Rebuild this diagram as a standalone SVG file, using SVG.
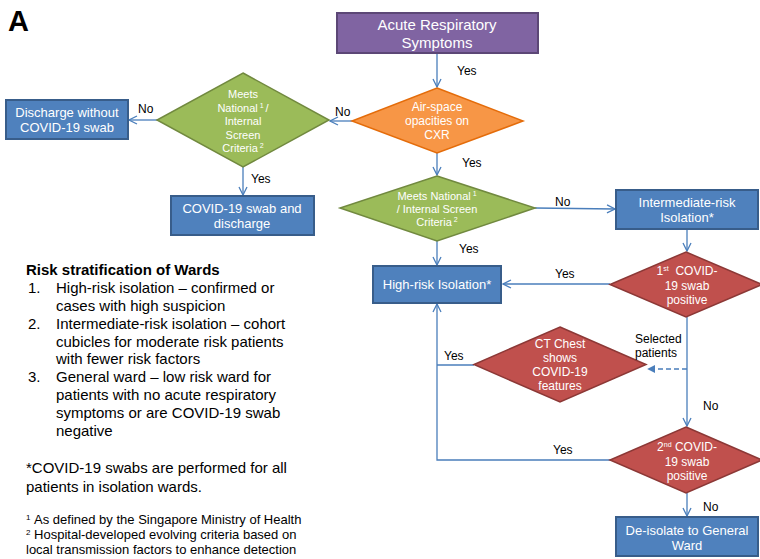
<svg xmlns="http://www.w3.org/2000/svg" width="760" height="559" viewBox="0 0 760 559">
<style>
text{font-family:"Liberation Sans",Arial,sans-serif}
.w{fill:#fff;text-anchor:middle}
.lab{fill:#000;font-size:12px}
.box{fill:#4F81BD;stroke:#385D8A;stroke-width:2}
.grn{fill:#9BBB59;stroke:#71893F;stroke-width:1.5}
.red{fill:#C0504D;stroke:#8C3836;stroke-width:1.5}
.con{fill:none;stroke:#4A7EBB;stroke-width:1.3}
.body{font-size:15px;fill:#000}
.fn{font-size:13px;fill:#000}
</style>
<defs>
<marker id="ar" viewBox="0 0 10 10" refX="9" refY="5" markerWidth="10" markerHeight="10" markerUnits="userSpaceOnUse" orient="auto">
<path d="M1,1 L9,5 L1,9" fill="none" stroke="#4A7EBB" stroke-width="1.3"/>
</marker>
<marker id="tri" viewBox="0 0 10 10" refX="9" refY="5" markerWidth="8" markerHeight="8" markerUnits="userSpaceOnUse" orient="auto">
<path d="M0,0 L10,5 L0,10 Z" fill="#4A7EBB"/>
</marker>
</defs>
<text x="8" y="31" font-size="29" font-weight="bold" fill="#000">A</text>
<g id="connectors">
<line class="con" x1="437" y1="53" x2="437" y2="87" marker-end="url(#ar)"/>
<line class="con" x1="352" y1="121" x2="330" y2="121" marker-end="url(#ar)"/>
<line class="con" x1="157" y1="120" x2="129" y2="120" marker-end="url(#ar)"/>
<line class="con" x1="243" y1="167" x2="243" y2="195" marker-end="url(#ar)"/>
<line class="con" x1="437" y1="153" x2="437" y2="175" marker-end="url(#ar)"/>
<line class="con" x1="535" y1="208" x2="615" y2="209" marker-end="url(#ar)"/>
<line class="con" x1="437" y1="241" x2="437" y2="265" marker-end="url(#ar)"/>
<line class="con" x1="687" y1="229" x2="687" y2="251" marker-end="url(#ar)"/>
<line class="con" x1="610" y1="284" x2="503" y2="284" marker-end="url(#ar)"/>
<line class="con" x1="687" y1="317" x2="687" y2="426" marker-end="url(#ar)"/>
<line class="con" x1="687" y1="369" x2="648" y2="369" stroke-dasharray="5,3" marker-end="url(#tri)"/>
<polyline class="con" points="474,365 437,365"/>
<polyline class="con" points="610,460 437,460 437,304" marker-end="url(#ar)"/>
<line class="con" x1="687" y1="493" x2="687" y2="516" marker-end="url(#ar)"/>
</g>
<g id="n-acute">
<rect x="337" y="13" width="201" height="40" fill="#8064A2" stroke="#5C4776" stroke-width="2"/>
<text class="w" x="437" y="30" font-size="15">Acute Respiratory</text>
<text class="w" x="437" y="48" font-size="15">Symptoms</text>
</g>
<g id="n-cxr">
<polygon points="437,88 523,121 437,153 352,121" fill="#F79646" stroke="#E46C0A" stroke-width="1.5"/>
<text class="w" x="437" y="111" font-size="12">Air-space</text>
<text class="w" x="437" y="125" font-size="12">opacities on</text>
<text class="w" x="437" y="139" font-size="12">CXR</text>
</g>
<g id="n-meets1">
<polygon class="grn" points="243,73 329,120 243,167 157,120"/>
<text class="w" x="243" y="98" font-size="11">Meets</text>
<text class="w" x="243" y="112" font-size="11">National<tspan font-size="7" dy="-4">&#160;1&#160;</tspan><tspan dy="4">/</tspan></text>
<text class="w" x="243" y="125" font-size="11">Internal</text>
<text class="w" x="243" y="139" font-size="11">Screen</text>
<text class="w" x="243" y="152" font-size="11">Criteria<tspan font-size="7" dy="-4">&#160;2</tspan></text>
</g>
<g id="n-discharge">
<rect class="box" x="6" y="100" width="122" height="39"/>
<text class="w" x="67" y="117" font-size="13">Discharge without</text>
<text class="w" x="67" y="132" font-size="13">COVID-19 swab</text>
</g>
<g id="n-swabdischarge">
<rect class="box" x="171" y="196" width="143" height="39"/>
<text class="w" x="242" y="213" font-size="13">COVID-19 swab and</text>
<text class="w" x="242" y="228" font-size="13">discharge</text>
</g>
<g id="n-meets2">
<polygon class="grn" points="437,176 535,208 437,241 340,208"/>
<text class="w" x="437" y="200" font-size="11">Meets National<tspan font-size="7" dy="-4">&#160;1</tspan></text>
<text class="w" x="437" y="213" font-size="11">/ Internal Screen</text>
<text class="w" x="437" y="226" font-size="11">Criteria<tspan font-size="7" dy="-4">&#160;2</tspan></text>
</g>
<g id="n-intermediate">
<rect class="box" x="616" y="190" width="142" height="39"/>
<text class="w" x="687" y="207" font-size="13">Intermediate-risk</text>
<text class="w" x="687" y="222" font-size="13">Isolation*</text>
</g>
<g id="n-highrisk">
<rect class="box" x="373" y="266" width="128" height="37"/>
<text class="w" x="437" y="289" font-size="13">High-risk Isolation*</text>
</g>
<g id="n-swab1">
<polygon class="red" points="686,252 762,284.5 686,317 610,284.5"/>
<text class="w" x="687" y="275" font-size="12">1<tspan font-size="7" dy="-4">st</tspan><tspan dy="4">&#160;&#160;COVID-</tspan></text>
<text class="w" x="687" y="290" font-size="12">19 swab</text>
<text class="w" x="687" y="304" font-size="12">positive</text>
</g>
<g id="n-ct">
<polygon class="red" points="560,327 646,364.5 560,402 474,364.5"/>
<text class="w" x="560" y="348" font-size="12">CT Chest</text>
<text class="w" x="560" y="362" font-size="12">shows</text>
<text class="w" x="560" y="376" font-size="12">COVID-19</text>
<text class="w" x="560" y="390" font-size="12">features</text>
</g>
<g id="n-swab2">
<polygon class="red" points="686,427 762,460 686,493 610,460"/>
<text class="w" x="687" y="451" font-size="12">2<tspan font-size="7" dy="-4">nd</tspan><tspan dy="4">&#160;COVID-</tspan></text>
<text class="w" x="687" y="466" font-size="12">19 swab</text>
<text class="w" x="687" y="480" font-size="12">positive</text>
</g>
<g id="n-deisolate">
<rect class="box" x="616" y="517" width="142" height="39"/>
<text class="w" x="687" y="535" font-size="13">De-isolate to General</text>
<text class="w" x="687" y="550" font-size="13">Ward</text>
</g>
<g id="labels">
<text class="lab" x="457" y="75">Yes</text>
<text class="lab" x="335" y="116">No</text>
<text class="lab" x="138" y="113">No</text>
<text class="lab" x="251" y="183">Yes</text>
<text class="lab" x="462" y="167">Yes</text>
<text class="lab" x="555" y="206">No</text>
<text class="lab" x="459" y="253">Yes</text>
<text class="lab" x="555" y="278">Yes</text>
<text class="lab" x="635" y="343">Selected</text>
<text class="lab" x="635" y="357">patients</text>
<text class="lab" x="444" y="360">Yes</text>
<text class="lab" x="703" y="410">No</text>
<text class="lab" x="553" y="454">Yes</text>
<text class="lab" x="703" y="511">No</text>
</g>
<g id="legend">
<text class="body" x="26" y="275" font-weight="bold">Risk stratification of Wards</text>
<text class="body" x="28" y="293">1.</text>
<text class="body" x="56" y="293">High-risk isolation – confirmed or</text>
<text class="body" x="56" y="311">cases with high suspicion</text>
<text class="body" x="28" y="329">2.</text>
<text class="body" x="56" y="329">Intermediate-risk isolation – cohort</text>
<text class="body" x="56" y="347">cubicles for moderate risk patients</text>
<text class="body" x="56" y="364">with fewer risk factors</text>
<text class="body" x="28" y="382">3.</text>
<text class="body" x="56" y="382">General ward – low risk ward for</text>
<text class="body" x="56" y="400">patients with no acute respiratory</text>
<text class="body" x="56" y="418">symptoms or are COVID-19 swab</text>
<text class="body" x="56" y="436">negative</text>
<text class="body" x="26" y="473">*COVID-19 swabs are performed for all</text>
<text class="body" x="26" y="492">patients in isolation wards.</text>
<text class="fn" x="26" y="524"><tspan font-size="8" dy="-4">1</tspan><tspan dy="4">&#160;As defined by the Singapore Ministry of Health</tspan></text>
<text class="fn" x="26" y="539"><tspan font-size="8" dy="-4">2</tspan><tspan dy="4">&#160;Hospital-developed evolving criteria based on</tspan></text>
<text class="fn" x="26" y="554">local transmission factors to enhance detection</text>
</g>
</svg>
